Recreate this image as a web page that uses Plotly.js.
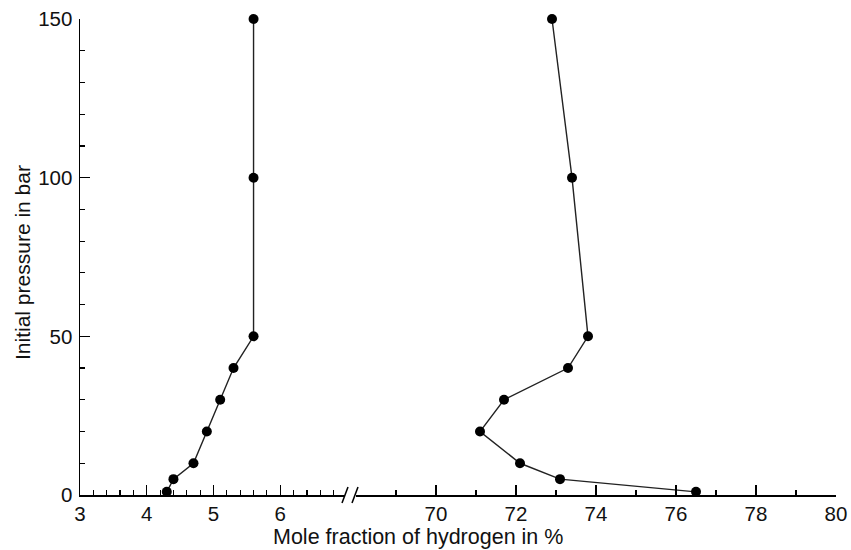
<!DOCTYPE html>
<html>
<head>
<meta charset="utf-8">
<script src="https://cdn.plot.ly/plotly-3.0.1.min.js"></script>
<style>html,body{margin:0;padding:0;background:#fff;}#chart{width:851px;height:550px;}</style>
</head>
<body>
<div id="chart"></div>
<script>
// Lower explosion limit branch (left axis segment)
const lowerX = [4.3, 4.4, 4.7, 4.9, 5.1, 5.3, 5.6, 5.6, 5.6];
const lowerP = [1, 5, 10, 20, 30, 40, 50, 100, 150];
// Upper explosion limit branch (right axis segment)
const upperX = [76.5, 73.1, 72.1, 71.1, 71.7, 73.3, 73.8, 73.4, 72.9];
const upperP = [1, 5, 10, 20, 30, 40, 50, 100, 150];

const leftTicks = [3, 4, 5, 6];
const rightTicks = [70, 72, 74, 76, 78, 80];
const rightMinor = [69, 71, 73, 75, 77, 79];
const yTicks = [0, 50, 100, 150];

const FONT = 'Liberation Sans, Arial, sans-serif';
const L = 80, R = 836, T = 19, B = 495;
const W = R - L, H = B - T;
const px = v => (v - L) / W;
const py = v => (B - v) / H;

const markerStyle = {color: '#000', size: 10};
const lineStyle = {color: '#222', width: 1.4};

const traces = [
  {x: lowerX, y: lowerP, xaxis: 'x', yaxis: 'y', mode: 'lines+markers',
   marker: markerStyle, line: lineStyle, cliponaxis: false, hoverinfo: 'skip'},
  {x: upperX, y: upperP, xaxis: 'x2', yaxis: 'y', mode: 'lines+markers',
   marker: markerStyle, line: lineStyle, cliponaxis: false, hoverinfo: 'skip'}
];

const axCommon = {
  showline: true, linecolor: '#000', linewidth: 1.5,
  ticks: 'inside', ticklen: 10, tickwidth: 1.3, tickcolor: '#000',
  showgrid: false, zeroline: false,
  tickfont: {family: FONT, size: 20.5, color: '#111'},
  fixedrange: true
};

const layout = {
  width: 851, height: 550,
  margin: {l: L, r: 851 - R, t: T, b: 550 - B},
  paper_bgcolor: '#fff', plot_bgcolor: '#fff',
  showlegend: false,
  xaxis: Object.assign({}, axCommon, {
    domain: [0, px(345)], range: [3, 6.97], anchor: 'y',
    tickmode: 'array', tickvals: leftTicks, ticktext: leftTicks.map(String),
    minor: {dtick: 0.2, tick0: 3, ticks: 'inside', ticklen: 5, tickwidth: 1.2, tickcolor: '#000', showgrid: false}
  }),
  xaxis2: Object.assign({}, axCommon, {
    domain: [px(356), 1], range: [68, 80], anchor: 'y',
    tickmode: 'array', tickvals: rightTicks, ticktext: rightTicks.map(String),
    minor: {tickmode: 'array', tickvals: rightMinor, ticks: 'inside', ticklen: 5, tickwidth: 1.2, tickcolor: '#000', showgrid: false}
  }),
  yaxis: Object.assign({}, axCommon, {
    range: [0, 150], anchor: 'x',
    tickmode: 'array', tickvals: yTicks, ticktext: yTicks.map(String),
    ticklabelstandoff: 2,
    minor: {dtick: 10, tick0: 0, ticks: 'inside', ticklen: 5, tickwidth: 1.2, tickcolor: '#000', showgrid: false}
  }),
  shapes: [
    {type: 'line', xref: 'paper', yref: 'paper', x0: px(342), y0: py(503), x1: px(348), y1: py(487), line: {color: '#000', width: 1.5}},
    {type: 'line', xref: 'paper', yref: 'paper', x0: px(352), y0: py(503), x1: px(358), y1: py(487), line: {color: '#000', width: 1.5}}
  ],
  annotations: [
    {text: 'Mole fraction of hydrogen in %', xref: 'paper', yref: 'paper',
     x: px(418), y: py(537), xanchor: 'center', yanchor: 'middle', showarrow: false,
     font: {family: FONT, size: 21.5, color: '#111'}},
    {text: 'Initial pressure in bar', xref: 'paper', yref: 'paper',
     x: px(22), y: py(263), xanchor: 'center', yanchor: 'middle', textangle: -90, showarrow: false,
     font: {family: FONT, size: 21, color: '#111'}}
  ]
};

Plotly.newPlot('chart', traces, layout, {staticPlot: true, displayModeBar: false});
</script>
</body>
</html>
